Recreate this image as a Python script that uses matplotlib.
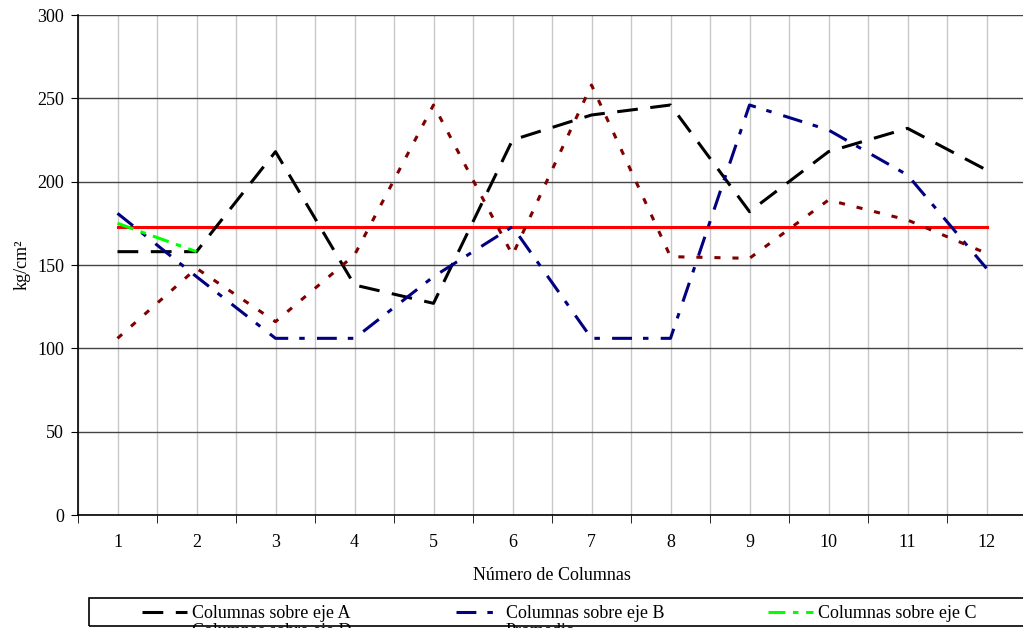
"""Resistencia de columnas por eje — gráfico de líneas"""
import matplotlib
matplotlib.use("Agg")
import matplotlib.pyplot as plt
from matplotlib.patches import Rectangle
from matplotlib.ticker import MultipleLocator

plt.rcParams["font.family"] = ["Liberation Serif", "DejaVu Serif"]

columnas = [1, 2, 3, 4, 5, 6, 7, 8, 9, 10, 11, 12]
eje_a = [158, 158, 218, 138, 127, 225, 240, 246, 182, 218, 232, 207]
eje_b = [181, 143, 106, 106, 143, 173, 106, 106, 246, 231, 204, 148]
eje_c = [175, 158]
eje_d = [106, 148, 116, 156, 246, 156, 258, 155, 154, 189, 177, 157]
promedio = [173] * 12

FS = 13
fig = plt.figure(figsize=(10.23, 6.28), dpi=100)
ax = fig.add_axes([78 / 1023, 1 - 515 / 628, 948 / 1023, 500 / 628])

lw = 2.2
la, = ax.plot(columnas, eje_a, color="black", lw=lw, dashes=(6.8, 4.1), label="Columnas sobre eje A")
lb, = ax.plot(columnas, eje_b, color="#000080", lw=lw, dashes=(6.5, 3.6, 1.8, 4), label="Columnas sobre eje B")
lc, = ax.plot(columnas[:2], eje_c, color="#00FF00", lw=lw, dashes=(5.5, 2.5, 1.8, 2.5), label="Columnas sobre eje C")
ld, = ax.plot(columnas, eje_d, color="#800000", lw=lw, dashes=(2, 3.9), label="Columnas sobre eje D")
lp, = ax.plot(columnas, promedio, color="#FF0000", lw=lw, label="Promedio", zorder=1.5)

ax.set_xlim(0.5, 12.5)
ax.set_ylim(0, 300)
ax.set_xticks(columnas)
ax.xaxis.set_minor_locator(MultipleLocator(1, offset=0.5))
ax.yaxis.set_major_locator(MultipleLocator(50))
ax.tick_params(axis="x", which="major", length=0, pad=14, labelsize=FS)
ax.tick_params(axis="x", which="minor", length=6, direction="out", color="black")
ax.tick_params(axis="y", length=5, direction="out", pad=5, labelsize=FS)

ax.grid(axis="x", which="both", color="#c8c8c8", lw=1)
ax.grid(axis="y", which="major", color="#444444", lw=1)
ax.set_axisbelow(True)
for s in ["top", "right"]:
    ax.spines[s].set_visible(False)
ax.spines["left"].set_linewidth(1.2)
ax.spines["bottom"].set_linewidth(1.2)

ax.set_ylabel("kg/cm²", fontsize=FS, labelpad=5)
ax.set_xlabel("Número de Columnas", fontsize=FS, labelpad=11)

# marco de la leyenda (recortado por el borde inferior, como en el original)
fig.patches.append(Rectangle((89 / 1023, 1 - 626 / 628), 940 / 1023, 28 / 628,
                             transform=fig.transFigure, fill=False,
                             edgecolor="black", lw=1.2))
# orden por filas: A B C / D Promedio
fig.legend([la, ld, lb, lp, lc],
           [h.get_label() for h in [la, ld, lb, lp, lc]],
           loc="upper left", bbox_to_anchor=(133 / 1023, 1 - 596 / 628),
           ncol=3, fontsize=FS, frameon=False, borderpad=0,
           handlelength=2.5, handletextpad=0.28, columnspacing=5.75,
           labelspacing=0.05)

plt.savefig("out.png", dpi=100)
plt.close()
